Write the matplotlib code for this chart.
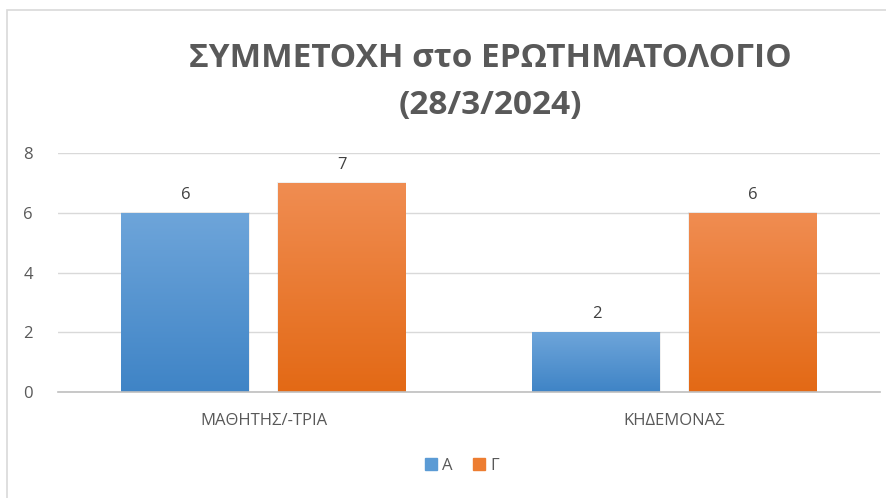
import matplotlib
matplotlib.use("Agg")
import matplotlib.pyplot as plt
import numpy as np
from matplotlib.patches import Rectangle
from matplotlib.colors import LinearSegmentedColormap

categories = ["ΜΑΘΗΤΗΣ/-ΤΡΙΑ", "ΚΗΔΕΜΟΝΑΣ"]
series_names = ["Α", "Γ"]
values_A = [6, 2]
values_G = [7, 6]
yticks = [0, 2, 4, 6, 8]
title = "ΣΥΜΜΕΤΟΧΗ στο ΕΡΩΤΗΜΑΤΟΛΟΓΙΟ\n(28/3/2024)"

plt.rcParams['font.family'] = ['Open Sans', 'DejaVu Sans']

W, H = 886, 498
fig = plt.figure(figsize=(W/100, H/100), dpi=100)
fig.patch.set_facecolor("white")

# outer chart border
fig.patches.append(Rectangle((7/W, -0.1), 1.2, (H-10)/H + 0.1, transform=fig.transFigure,
                             fill=False, edgecolor="#d9d9d9", linewidth=1.2))

left, right = 58/W, 880/W
bottom, top = (H-392)/H, (H-153)/H
ax = fig.add_axes([left, bottom, right-left, top-bottom])
ax.set_xlim(-0.5, 1.5)
ax.set_ylim(0, 8)

x = np.arange(len(categories))
bw = 0.311
off = 0.19
cmap_A = LinearSegmentedColormap.from_list("a", ["#3f84c6", "#6ea5da"])
cmap_G = LinearSegmentedColormap.from_list("g", ["#e36915", "#f08d52"])
grad = np.linspace(0, 1, 256).reshape(-1, 1)

for vals, dx, cmap, col in [(values_A, -off, cmap_A, "#5b9bd5"), (values_G, off, cmap_G, "#ed7d31")]:
    bars = ax.bar(x + dx, vals, width=bw, color=col, zorder=3, linewidth=0)
    for b, v in zip(bars, vals):
        bx, by = b.get_x(), b.get_y()
        bwid, bh = b.get_width(), b.get_height()
        # subtle shadow
        ax.add_patch(Rectangle((bx - 0.002, by), bwid + 0.004, bh + 0.02, color="#000000",
                               alpha=0.06, zorder=2.5, linewidth=0))
        im = ax.imshow(grad, extent=[bx, bx + bwid, by, by + bh], origin="lower",
                       cmap=cmap, aspect="auto", zorder=4)
        im.set_clip_path(b)
        ax.text(bx + bwid/2, v + 0.6, str(v), ha="center", va="center",
                fontsize=12, color="#404040", zorder=5)

ax.set_xlim(-0.5, 1.5)
ax.set_ylim(0, 8)
ax.set_yticks(yticks)
ax.set_yticklabels([str(t) for t in yticks])
ax.set_xticks(x)
ax.set_xticklabels(categories)
ax.tick_params(axis="both", length=0, colors="#595959", labelsize=12)
ax.tick_params(axis="y", pad=18)
ax.tick_params(axis="x", pad=15)
ax.yaxis.grid(True, color="#d9d9d9", linewidth=1, zorder=0)
ax.set_axisbelow(True)
for s in ["top", "right", "left"]:
    ax.spines[s].set_visible(False)
ax.spines["bottom"].set_color("#bfbfbf")
ax.spines["bottom"].set_linewidth(1.2)
ax.spines["bottom"].set_zorder(6)

fig.text(490/W, 1 - 82/H, title, ha="center", va="center", fontsize=24,
         fontweight="bold", color="#595959", linespacing=1.55)

# legend
handles = [Rectangle((0, 0), 1, 1, color="#5b9bd5"), Rectangle((0, 0), 1, 1, color="#ed7d31")]
fig.legend(handles, series_names, loc="center", bbox_to_anchor=(462/W, 1 - 466/H), ncol=2,
           frameon=False, fontsize=12, handlelength=0.75, handleheight=0.75,
           handletextpad=0.3, columnspacing=1.2, labelcolor="#595959")

fig.savefig("out.png", dpi=100)
